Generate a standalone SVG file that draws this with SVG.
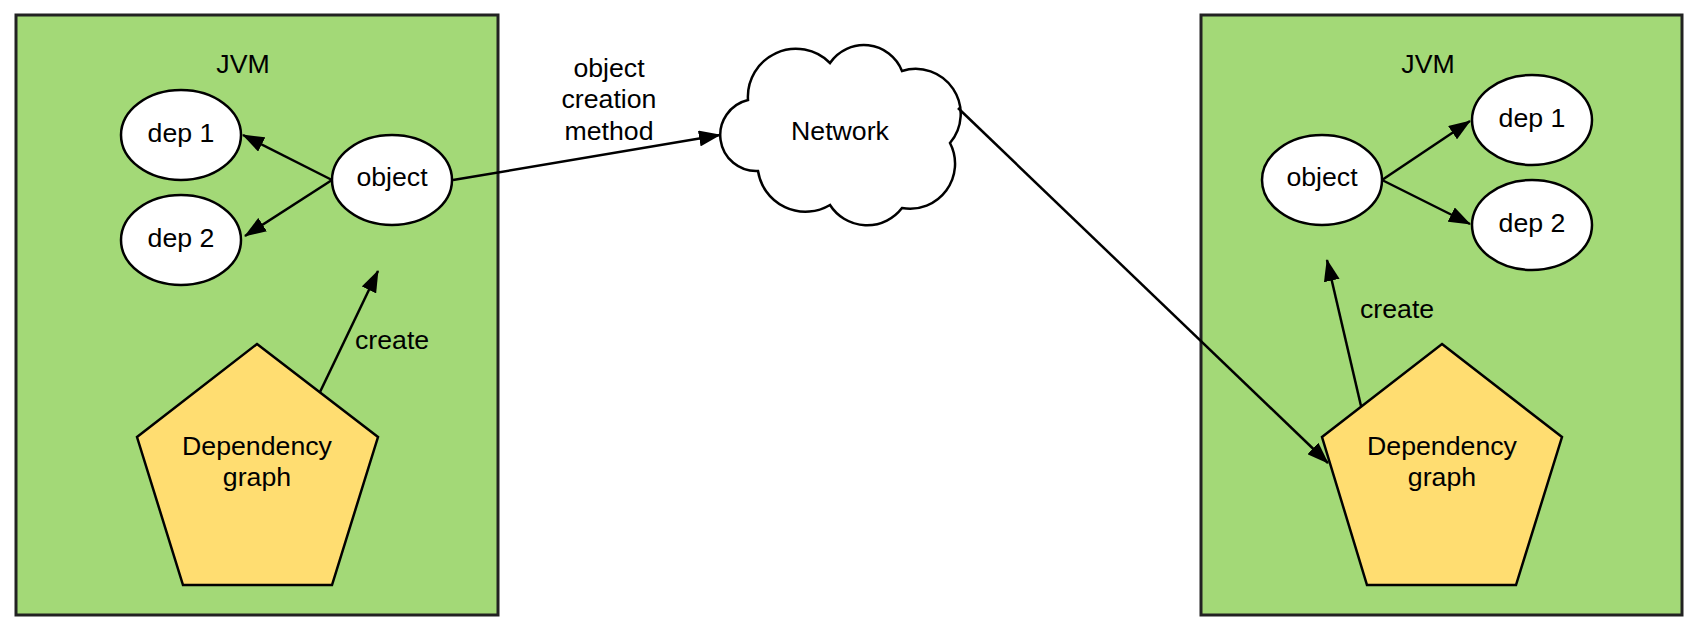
<svg xmlns="http://www.w3.org/2000/svg" width="1702" height="630" viewBox="0 0 1702 630">
<defs>
<style>
.box{fill:#a3d977;stroke:#222;stroke-width:3}
.ell{fill:#fff;stroke:#000;stroke-width:2.5}
.pent{fill:#ffdd71;stroke:#000;stroke-width:2.5;stroke-linejoin:miter}
.cloud{fill:#fff;stroke:#000;stroke-width:2.5;stroke-linejoin:miter}
.t{font-family:"Liberation Sans",Arial,sans-serif;font-size:26.7px;fill:#000;text-anchor:middle}
.tl{font-family:"Liberation Sans",Arial,sans-serif;font-size:26.7px;fill:#000}
.c{stroke:#000;stroke-width:2.5;fill:none;marker-end:url(#ah)}
</style>
<marker id="ah" viewBox="0 0 22 16" refX="21" refY="8" markerWidth="22" markerHeight="16" markerUnits="userSpaceOnUse" orient="auto">
<path d="M0,0 L22,8 L0,16 z" fill="#000"/>
</marker>
</defs>
<rect width="1702" height="630" fill="#fff"/>
<g id="jvm-left">
<rect class="box" x="16" y="15" width="482" height="600"/>
<text class="t" x="243" y="73">JVM</text>
</g>
<g id="jvm-right">
<rect class="box" x="1201" y="15" width="481" height="600"/>
<text class="t" x="1428" y="73">JVM</text>
</g>
<g id="network">
<path class="cloud" d="M748,100 A48,48 0 0 1 830,63 A41,41 0 0 1 902,71 A45,45 0 0 1 950,143 A45,45 0 0 1 902,208 A44,44 0 0 1 830,205 A48,48 0 0 1 758,171 A36,36 0 0 1 748,100 Z"/>
<text class="t" x="840" y="140">Network</text>
</g>
<g id="left-dep1">
<ellipse class="ell" cx="181" cy="135" rx="60" ry="45"/>
<text class="t" x="181" y="142">dep 1</text>
</g>
<g id="left-dep2">
<ellipse class="ell" cx="181" cy="240" rx="60" ry="45"/>
<text class="t" x="181" y="247">dep 2</text>
</g>
<g id="left-object">
<ellipse class="ell" cx="392" cy="180" rx="60" ry="45"/>
<text class="t" x="392" y="186">object</text>
</g>
<g id="left-graph">
<polygon class="pent" points="257,344 378,437 332,585 183,585 137,437"/>
<text class="t" x="257" y="455">Dependency</text>
<text class="t" x="257" y="486">graph</text>
</g>
<g id="right-object">
<ellipse class="ell" cx="1322" cy="180" rx="60" ry="45"/>
<text class="t" x="1322" y="186">object</text>
</g>
<g id="right-dep1">
<ellipse class="ell" cx="1532" cy="120" rx="60" ry="45"/>
<text class="t" x="1532" y="127">dep 1</text>
</g>
<g id="right-dep2">
<ellipse class="ell" cx="1532" cy="225" rx="60" ry="45"/>
<text class="t" x="1532" y="232">dep 2</text>
</g>
<g id="right-graph">
<polygon class="pent" points="1442,344 1562,437 1516,585 1367,585 1322,437"/>
<text class="t" x="1442" y="455">Dependency</text>
<text class="t" x="1442" y="486">graph</text>
</g>
<g id="connectors">
<line class="c" x1="332" y1="180" x2="243" y2="135"/>
<line class="c" x1="332" y1="180" x2="245" y2="236"/>
<line class="c" x1="453" y1="180" x2="720" y2="135"/>
<line class="c" x1="320" y1="392" x2="378" y2="271"/>
<line class="c" x1="1382" y1="180" x2="1470" y2="121"/>
<line class="c" x1="1382" y1="180" x2="1470" y2="224"/>
<line class="c" x1="1361" y1="406" x2="1327" y2="260"/>
<line class="c" x1="958" y1="108" x2="1328" y2="463"/>
<text class="t" x="609" y="77">object</text>
<text class="t" x="609" y="108">creation</text>
<text class="t" x="609" y="140">method</text>
<text class="tl" x="355" y="349">create</text>
<text class="tl" x="1360" y="318">create</text>
</g>
</svg>
